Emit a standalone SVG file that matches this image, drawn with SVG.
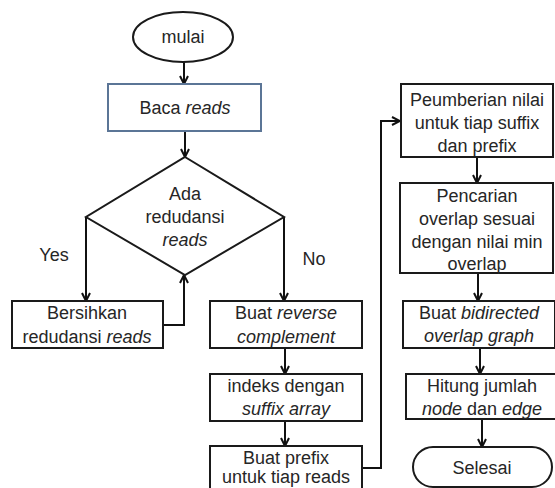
<svg xmlns="http://www.w3.org/2000/svg" width="555" height="488" viewBox="0 0 555 488">
  <style>
    .box { fill: #ffffff; stroke: #1a1a1a; stroke-width: 2; }
    .blue { fill: #ffffff; stroke: #5b7596; stroke-width: 2; }
    .lbl { font-family: "Liberation Sans", Arial, sans-serif; font-size: 18px; fill: #262626; text-anchor: middle; }
    .it { font-style: italic; }
    .wire { fill: none; stroke: #111111; stroke-width: 2; }
    .arr { marker-end: url(#head); }
  </style>
  <defs>
    <marker id="head" viewBox="0 0 10 10" refX="9" refY="5" markerWidth="10" markerHeight="10" markerUnits="userSpaceOnUse" orient="auto">
      <path d="M1,1 L9,5 L1,9" fill="none" stroke="#111111" stroke-width="2"/>
    </marker>
  </defs>
  <rect width="555" height="488" fill="#ffffff"/>

  <g id="connectors">
    <path class="wire arr" d="M184,62 V84"/>
    <path class="wire arr" d="M185,131 V157"/>
    <path class="wire arr" d="M86,217 V301"/>
    <path class="wire arr" d="M163,325 H184 V275"/>
    <path class="wire arr" d="M284,217 V301"/>
    <path class="wire arr" d="M285,348 V374"/>
    <path class="wire arr" d="M285,421 V446"/>
    <path class="wire arr" d="M362,468 H381 V121 H400"/>
    <path class="wire arr" d="M477,157 V183"/>
    <path class="wire arr" d="M478,273 V301"/>
    <path class="wire arr" d="M480,348 V374"/>
    <path class="wire arr" d="M482,419 V447"/>
  </g>

  <g id="mulai">
    <ellipse class="box" cx="183" cy="37" rx="50" ry="25"/>
    <text class="lbl" x="183" y="43">mulai</text>
  </g>

  <g id="baca">
    <rect class="blue" x="108" y="84" width="153" height="47"/>
    <text class="lbl" x="185" y="114">Baca <tspan class="it">reads</tspan></text>
  </g>

  <g id="cek-redudansi">
    <polygon class="box" points="185,157 284,217 185,275 86,217"/>
    <text class="lbl" x="185" y="200">Ada</text>
    <text class="lbl" x="185" y="223">redudansi</text>
    <text class="lbl it" x="185" y="246">reads</text>
  </g>

  <g id="label-yes">
    <text class="lbl" x="54" y="261">Yes</text>
  </g>
  <g id="label-no">
    <text class="lbl" x="314" y="265">No</text>
  </g>

  <g id="bersihkan">
    <rect class="box" x="12" y="301" width="151" height="47"/>
    <text class="lbl" x="87" y="319">Bersihkan</text>
    <text class="lbl" x="87" y="343">redudansi <tspan class="it">reads</tspan></text>
  </g>

  <g id="reverse">
    <rect class="box" x="210" y="301" width="152" height="47"/>
    <text class="lbl" x="286" y="319">Buat <tspan class="it">reverse</tspan></text>
    <text class="lbl it" x="286" y="343">complement</text>
  </g>

  <g id="indeks">
    <rect class="box" x="210" y="374" width="152" height="47"/>
    <text class="lbl" x="286" y="392">indeks dengan</text>
    <text class="lbl it" x="286" y="415">suffix array</text>
  </g>

  <g id="prefix">
    <rect class="box" x="210" y="446" width="152" height="50"/>
    <text class="lbl" x="286" y="464">Buat prefix</text>
    <text class="lbl" x="286" y="483">untuk tiap reads</text>
  </g>

  <g id="peumberian">
    <rect class="box" x="401" y="84" width="152" height="73"/>
    <text class="lbl" x="477" y="106">Peumberian nilai</text>
    <text class="lbl" x="477" y="129">untuk tiap suffix</text>
    <text class="lbl" x="477" y="152">dan prefix</text>
  </g>

  <g id="pencarian">
    <rect class="box" x="400" y="183" width="153" height="90"/>
    <text class="lbl" x="477" y="202">Pencarian</text>
    <text class="lbl" x="477" y="225">overlap sesuai</text>
    <text class="lbl" x="477" y="248">dengan nilai min</text>
    <text class="lbl" x="477" y="270">overlap</text>
  </g>

  <g id="bidirected">
    <rect class="box" x="403" y="301" width="152" height="47"/>
    <text class="lbl" x="479" y="319">Buat <tspan class="it">bidirected</tspan></text>
    <text class="lbl it" x="479" y="342">overlap graph</text>
  </g>

  <g id="hitung">
    <rect class="box" x="406" y="374" width="152" height="45"/>
    <text class="lbl" x="482" y="392">Hitung jumlah</text>
    <text class="lbl" x="482" y="415"><tspan class="it">node</tspan> dan <tspan class="it">edge</tspan></text>
  </g>

  <g id="selesai">
    <rect class="box" x="413" y="447" width="139" height="40" rx="20" ry="20"/>
    <text class="lbl" x="482" y="474">Selesai</text>
  </g>
</svg>
